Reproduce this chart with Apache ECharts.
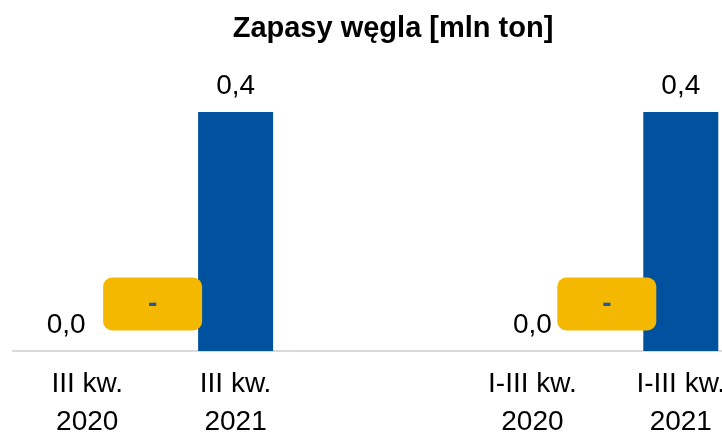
<!DOCTYPE html>
<html>
<head>
<meta charset="utf-8">
<script src="https://cdn.jsdelivr.net/npm/echarts@6/dist/echarts.min.js"></script>
<style>
  html, body { margin: 0; padding: 0; background: #fff; overflow: hidden; }
  /* wykres szerszy od okna - ostatnia kategoria jest obcieta jak w oryginale */
  #chart { width: 760px; height: 435px; }
</style>
</head>
<body>
<div id="chart"></div>
<script>
// dane z wykresu
const categories = ['III kw.\n2020', 'III kw.\n2021', '', 'I-III kw.\n2020', 'I-III kw.\n2021']
const values = [0.0, 0.4, null, 0.0, 0.4]
// zmiana r/r (brak -> "-"), przypisana do kategorii 2021
const changeCats = [1, 4]
const changeLabels = ['-', '-']
const changeOffsets = [-83, -74]

const blue = '#00529f'
const yellow = '#f5b800'
const font = 'Liberation Sans, Arial, sans-serif'

const chart = echarts.init(document.getElementById('chart'))

const barData = values.map((v, i) => {
  if (v === null) return null
  const item = { value: v }
  // etykieta pierwszego zera przesunieta w lewo jak w oryginale
  if (i === 0) item.label = { offset: [-21, 0] }
  return item
})

const option = {
  animation: false,
  title: {
    text: 'Zapasy węgla [mln ton]',
    left: 388,
    textAlign: 'center',
    top: 9,
    textStyle: { fontFamily: font, fontSize: 29, fontWeight: 'bold', color: '#000' }
  },
  grid: {
    left: 13,
    right: 5,
    top: 112,
    bottom: 84,
    containLabel: false,
    outerBoundsMode: 'none'
  },
  xAxis: {
    type: 'category',
    data: categories,
    axisLine: { lineStyle: { color: '#d9d9d9', width: 2 } },
    axisTick: { show: false },
    axisLabel: {
      interval: 0,
      margin: 14,
      fontFamily: font,
      fontSize: 28,
      lineHeight: 38,
      color: '#000'
    }
  },
  yAxis: {
    type: 'value',
    min: 0,
    max: 0.4,
    show: false,
    splitLine: { show: false }
  },
  series: [
    {
      type: 'bar',
      data: barData,
      barWidth: 75,
      itemStyle: { color: blue },
      label: {
        show: true,
        position: 'top',
        distance: 12,
        fontFamily: font,
        fontSize: 28,
        color: '#000',
        formatter: p => p.value.toFixed(1).replace('.', ',')
      }
    },
    {
      type: 'scatter',
      symbolSize: 0,
      z: 5,
      itemStyle: { opacity: 1 },
      data: changeCats.map((c, i) => ({
        value: [c, 0],
        name: changeLabels[i],
        label: { offset: [changeOffsets[i], -47] }
      })),
      label: {
        show: true,
        opacity: 1,
        position: 'inside',
        formatter: p => p.name,
        width: 99,
        height: 41,
        lineHeight: 41,
        padding: [12, 0, 0, 0],
        align: 'center',
        verticalAlign: 'middle',
        backgroundColor: yellow,
        borderRadius: 9,
        fontFamily: font,
        fontSize: 28,
        fontWeight: 'bold',
        color: '#1f5aa0'
      }
    }
  ]
}

chart.setOption(option)
</script>
</body>
</html>
